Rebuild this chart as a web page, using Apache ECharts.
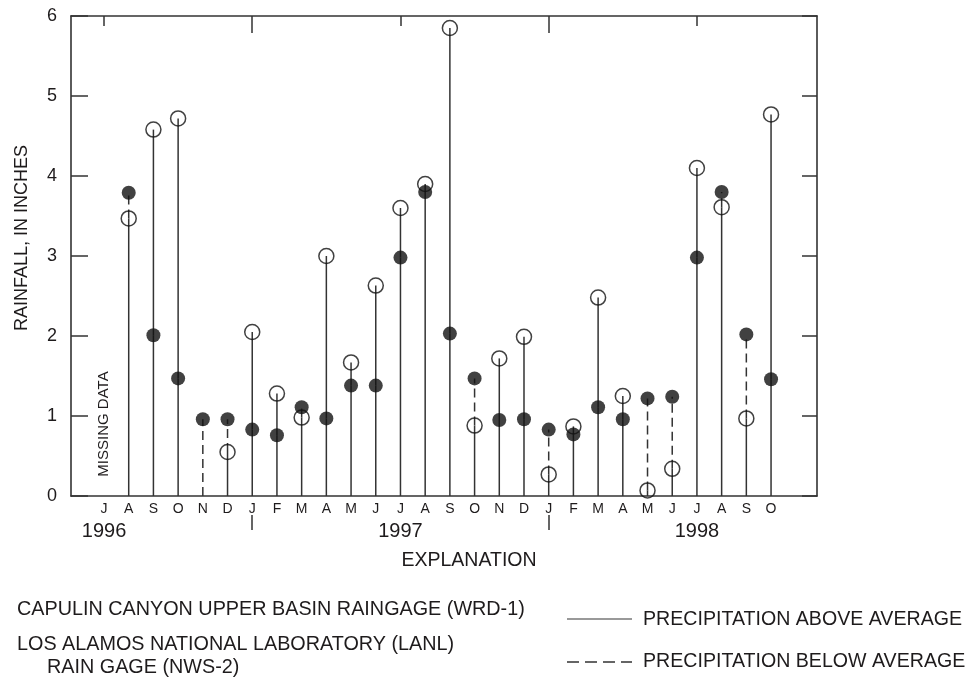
<!DOCTYPE html>
<html>
<head>
<meta charset="utf-8">
<script src="https://cdn.jsdelivr.net/npm/echarts@6/dist/echarts.min.js"></script>
<style>
html,body{margin:0;padding:0;background:#fff;}
#chart{width:969px;height:686px;}
</style>
</head>
<body>
<div id="chart"></div>
<script>
// Month letters, Jul 1996 .. Oct 1998 (index 0 = Jul 1996)
const monthLabels = ['J','A','S','O','N','D','J','F','M','A','M','J','J','A','S','O','N','D','J','F','M','A','M','J','J','A','S','O'];
// Capulin Canyon upper basin rain gage (WRD-1), open circles, inches
const wrd1 = [null, 3.47, 4.58, 4.72, null, 0.55, 2.05, 1.28, 0.98, 3.00, 1.67, 2.63, 3.60, 3.90, 5.85, 0.88, 1.72, 1.99, 0.27, 0.87, 2.48, 1.25, 0.07, 0.34, 4.10, 3.61, 0.97, 4.77];
// Los Alamos National Laboratory rain gage (NWS-2), filled circles, inches
const lanl = [null, 3.79, 2.01, 1.47, 0.96, 0.96, 0.83, 0.76, 1.11, 0.97, 1.38, 1.38, 2.98, 3.80, 2.03, 1.47, 0.95, 0.96, 0.83, 0.77, 1.11, 0.96, 1.22, 1.24, 2.98, 3.80, 2.02, 1.46];
// Year labels placed under July of each year
const yearLabels = ['1996', '1997', '1998'];
const yearLabelIdx = [0, 12, 24];
const yearBreakIdx = [6, 18];
const yTicks = [0, 1, 2, 3, 4, 5, 6];

const FONT = '"Liberation Sans", Arial, Helvetica, sans-serif';
const INK = '#1e1b1c';
const AX = '#333333';

const chart = echarts.init(document.getElementById('chart'), null, {renderer: 'canvas'});

const stemData = monthLabels.map((m, i) => [i, lanl[i] == null ? 0 : lanl[i]]).filter((d, i) => lanl[i] != null || wrd1[i] != null);
const openData = wrd1.map((v, i) => [i, v]).filter(d => d[1] != null);
const fillData = lanl.map((v, i) => [i, v]).filter(d => d[1] != null);

const xMin = -1.336, xMax = 28.86;

function xAxisBase(extra) {
  return Object.assign({
    type: 'value', min: xMin, max: xMax, gridIndex: 0,
    splitLine: {show: false},
    axisLine: {show: false, onZero: false, lineStyle: {color: AX, width: 1.6}},
    axisTick: {show: false},
    axisLabel: {show: false}
  }, extra);
}

const option = {
  animation: false,
  backgroundColor: '#ffffff',
  grid: {left: 71, right: 152, top: 16, bottom: 190, show: false},
  xAxis: [
    xAxisBase({
      position: 'bottom',
      axisLine: {show: true, onZero: false, lineStyle: {color: AX, width: 1.6}},
      axisLabel: {
        show: true, customValues: monthLabels.map((m, i) => i),
        formatter: v => monthLabels[Math.round(v)] || '',
        margin: 6, fontSize: 14, color: INK, fontFamily: FONT
      }
    }),
    xAxisBase({
      position: 'top',
      axisLine: {show: true, onZero: false, lineStyle: {color: AX, width: 1.6}},
      axisTick: {show: true, inside: true, length: 10, customValues: yearLabelIdx, lineStyle: {color: AX, width: 1.5}}
    }),
    xAxisBase({
      position: 'top',
      axisTick: {show: true, inside: true, length: 17, customValues: yearBreakIdx, lineStyle: {color: AX, width: 1.5}}
    }),
    xAxisBase({
      position: 'bottom', offset: 19,
      axisTick: {show: true, inside: false, length: 15, customValues: yearBreakIdx, lineStyle: {color: AX, width: 1.5}},
      axisLabel: {
        show: true, customValues: yearLabelIdx,
        formatter: v => yearLabels[yearLabelIdx.indexOf(Math.round(v))] || '',
        margin: 6, fontSize: 20, color: INK, fontFamily: FONT
      }
    })
  ],
  yAxis: [
    {
      type: 'value', min: 0, max: 6, interval: 1, position: 'left',
      splitLine: {show: false},
      axisLine: {show: true, onZero: false, lineStyle: {color: AX, width: 1.6}},
      axisTick: {show: true, inside: true, length: 17, lineStyle: {color: AX, width: 1.5}},
      axisLabel: {margin: 14, fontSize: 18, color: INK, fontFamily: FONT,
        formatter: v => yTicks.indexOf(v) >= 0 ? String(v) : ''}
    },
    {
      type: 'value', min: 0, max: 6, interval: 1, position: 'right',
      splitLine: {show: false},
      axisLine: {show: true, onZero: false, lineStyle: {color: AX, width: 1.6}},
      axisTick: {show: true, inside: true, length: 15, lineStyle: {color: AX, width: 1.5}},
      axisLabel: {show: false}
    }
  ],
  series: [
    {
      type: 'custom', xAxisIndex: 0, yAxisIndex: 0, z: 2,
      data: stemData,
      renderItem: function (params, api) {
        const i = api.value(0);
        const w = wrd1[i], l = lanl[i];
        const children = [];
        const solid = {stroke: AX, lineWidth: 1.5};
        const dashed = {stroke: AX, lineWidth: 1.5, lineDash: [9, 5]};
        function seg(a, b, style) {
          const pa = api.coord([i, a]), pb = api.coord([i, b]);
          children.push({type: 'line', shape: {x1: pa[0], y1: pa[1], x2: pb[0], y2: pb[1]}, style: style});
        }
        if (w == null) {
          seg(0, l, dashed);
        } else {
          const lo = Math.min(w, l), hi = Math.max(w, l);
          seg(0, lo, solid);
          seg(lo, hi, w >= l ? solid : dashed);
        }
        return {type: 'group', children: children};
      }
    },
    {
      name: 'CAPULIN CANYON UPPER BASIN RAINGAGE (WRD-1)',
      type: 'scatter', xAxisIndex: 0, yAxisIndex: 0, z: 3,
      symbol: 'circle', symbolSize: 15,
      itemStyle: {color: 'rgba(255,255,255,0)', borderColor: '#111', borderWidth: 1.5},
      data: openData
    },
    {
      name: 'LOS ALAMOS NATIONAL LABORATORY (LANL) RAIN GAGE (NWS-2)',
      type: 'scatter', xAxisIndex: 0, yAxisIndex: 0, z: 4,
      symbol: 'circle', symbolSize: 14,
      itemStyle: {color: '#111', borderColor: '#111', borderWidth: 0},
      data: fillData
    }
  ],
  graphic: [
    {type: 'text', x: 22, y: 238, rotation: Math.PI / 2,
      style: {text: 'RAINFALL, IN INCHES', fill: INK, font: '18px ' + FONT, textAlign: 'center', textVerticalAlign: 'middle'}},
    {type: 'text', x: 104, y: 424, rotation: Math.PI / 2,
      style: {text: 'MISSING DATA', fill: INK, font: '15px ' + FONT, textAlign: 'center', textVerticalAlign: 'middle'}},
    {type: 'text', x: 469, y: 561,
      style: {text: 'EXPLANATION', fill: INK, font: '19.5px ' + FONT, textAlign: 'center', textVerticalAlign: 'middle'}},
    {type: 'text', x: 17, y: 610,
      style: {text: 'CAPULIN CANYON UPPER BASIN RAINGAGE (WRD-1)', fill: INK, font: '19.8px ' + FONT, textAlign: 'left', textVerticalAlign: 'middle'}},
    {type: 'text', x: 17, y: 645,
      style: {text: 'LOS ALAMOS NATIONAL LABORATORY (LANL)', fill: INK, font: '19.8px ' + FONT, textAlign: 'left', textVerticalAlign: 'middle'}},
    {type: 'text', x: 47, y: 668,
      style: {text: 'RAIN GAGE (NWS-2)', fill: INK, font: '19.8px ' + FONT, textAlign: 'left', textVerticalAlign: 'middle'}},
    {type: 'line', shape: {x1: 567, y1: 619, x2: 632, y2: 619}, style: {stroke: '#777', lineWidth: 1.5}},
    {type: 'text', x: 643, y: 620,
      style: {text: 'PRECIPITATION ABOVE AVERAGE', fill: INK, font: '19.6px ' + FONT, textAlign: 'left', textVerticalAlign: 'middle'}},
    {type: 'line', shape: {x1: 567, y1: 662, x2: 632, y2: 662}, style: {stroke: '#333', lineWidth: 1.5, lineDash: [12, 6]}},
    {type: 'text', x: 643, y: 662,
      style: {text: 'PRECIPITATION BELOW AVERAGE', fill: INK, font: '19.6px ' + FONT, textAlign: 'left', textVerticalAlign: 'middle'}}
  ]
};

chart.setOption(option);
</script>
</body>
</html>
